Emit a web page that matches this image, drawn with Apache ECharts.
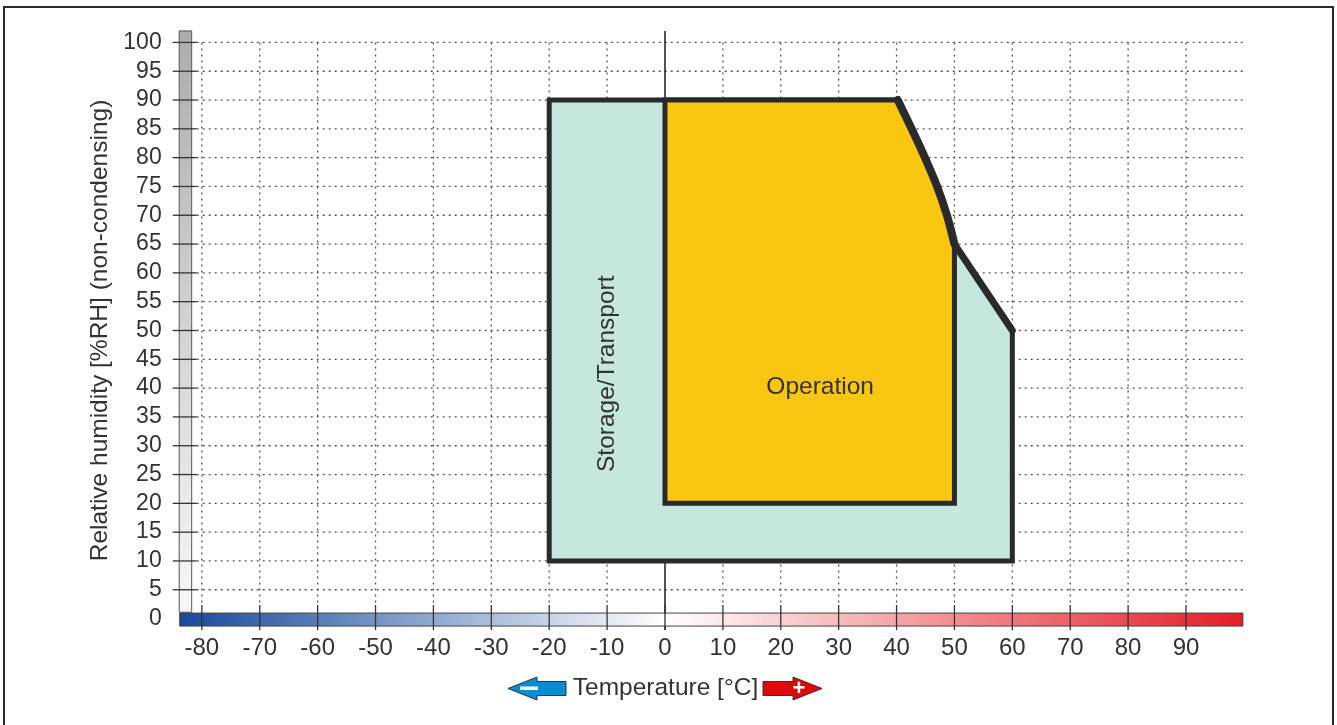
<!DOCTYPE html>
<html>
<head>
<meta charset="utf-8">
<script src="https://cdn.jsdelivr.net/npm/echarts@6/dist/echarts.min.js"></script>
<style>
	html, body { margin: 0; padding: 0; background: #fff; }
	#chart { width: 1337px; height: 725px; }
</style>
</head>
<body>
<div id="chart"></div>
<script>
	// tick labels
	const xTicks = [-80, -70, -60, -50, -40, -30, -20, -10, 0, 10, 20, 30, 40, 50, 60, 70, 80, 90]
	const yTicks = [0, 5, 10, 15, 20, 25, 30, 35, 40, 45, 50, 55, 60, 65, 70, 75, 80, 85, 90, 95, 100]

	// upper limit curve between 40 °C / 90 %RH and 50 °C / 65 %RH
	const limitCurve = [[40.2, 90], [42.6, 85], [44.9, 80], [47, 75], [48.7, 70], [50, 65]]
	const limitLine = [[50, 65], [60, 50]]

	// storage / transport area
	const storageArea = [[-20, 10], [-20, 90]].concat(limitCurve, [[60, 50], [60, 10]])
	// operation area
	const operationArea = [[0, 20], [0, 90]].concat(limitCurve, [[50, 20]])

	const labels = [
		{ name: 'Storage/Transport', value: [-10, 42.5], rotate: true },
		{ name: 'Operation', value: [26.8, 40.2], rotate: false }
	]

	const xRange = [-84, 100]
	const yRange = [-2, 102]

	const font = '"Liberation Sans", Arial, sans-serif'
	const textColor = '#333'
	const lineColor = '#2a2a2a'

	const chart = echarts.init(document.getElementById('chart'), null, { renderer: 'canvas' })

	function areaSeries(points, fill, z) {
		return {
			type: 'custom',
			z: z,
			silent: true,
			clip: false,
			data: [0],
			renderItem: (params, api) => {
				return {
					type: 'polygon',
					shape: { points: points.map(p => api.coord(p)) },
					style: { fill: fill, stroke: lineColor, lineWidth: 5, lineJoin: 'miter' }
				}
			}
		}
	}

	function limitSeries(points, width, smooth, z) {
		return {
			type: 'custom',
			z: z,
			silent: true,
			clip: false,
			data: [0],
			renderItem: (params, api) => {
				return {
					type: 'polyline',
					shape: { points: points.map(p => api.coord(p)), smooth: smooth },
					style: { fill: null, stroke: lineColor, lineWidth: width, lineCap: 'round' }
				}
			}
		}
	}

	const option = {
		animation: false,
		grid: {
			left: 178.7,
			right: 93.1,
			top: 30.9,
			bottom: 94.9
		},
		xAxis: {
			type: 'value',
			min: xRange[0],
			max: xRange[1],
			axisLine: { show: false },
			axisTick: { show: false },
			splitLine: { show: false },
			axisLabel: {
				customValues: xTicks,
				color: textColor,
				fontFamily: font,
				fontSize: 24,
				margin: 6
			}
		},
		yAxis: {
			type: 'value',
			min: yRange[0],
			max: yRange[1],
			name: 'Relative humidity [%RH] (non-condensing)',
			nameLocation: 'middle',
			nameGap: 60,
			nameTextStyle: { color: textColor, fontFamily: font, fontSize: 24.5 },
			axisLine: { show: false },
			axisTick: { show: false },
			splitLine: { show: false },
			axisLabel: {
				customValues: yTicks,
				color: textColor,
				fontFamily: font,
				fontSize: 23,
				margin: 17
			}
		},
		graphic: [
			// outer frame
			{
				type: 'rect',
				shape: { x: 4, y: 7, width: 1329, height: 740 },
				style: { fill: 'none', stroke: '#2a2a2a', lineWidth: 2 }
			},
			// temperature legend
			{
				type: 'polygon',
				shape: { points: [[508, 688.5], [537, 677], [537, 681.5], [566, 681.5], [566, 695.5], [537, 695.5], [537, 700]] },
				style: { fill: '#0a8bd5', stroke: '#333', lineWidth: 1 }
			},
			{
				type: 'rect',
				shape: { x: 520, y: 686.5, width: 18, height: 3.5 },
				style: { fill: '#fff' }
			},
			{
				type: 'text',
				style: {
					text: 'Temperature [°C]', x: 665.5, y: 688.5,
					align: 'center', verticalAlign: 'middle',
					font: '24.5px ' + font, fill: textColor
				}
			},
			{
				type: 'polygon',
				shape: { points: [[763, 681.5], [793, 681.5], [793, 677], [822, 688.5], [793, 700], [793, 695.5], [763, 695.5]] },
				style: { fill: '#dc0a0a', stroke: '#333', lineWidth: 1 }
			},
			{
				type: 'text',
				style: {
					text: '+', x: 799, y: 689,
					align: 'center', verticalAlign: 'middle',
					font: 'bold 22px ' + font, fill: '#fff'
				}
			}
		],
		series: [
			// vertical dotted grid lines
			{
				type: 'custom',
				z: 1,
				silent: true,
				data: xTicks.filter(v => v !== 0),
				renderItem: (params, api) => {
					const top = api.coord([api.value(0), 100])
					const bottom = api.coord([api.value(0), 0])
					return {
						type: 'line',
						shape: { x1: top[0], y1: top[1], x2: bottom[0], y2: bottom[1] - 14 },
						style: { stroke: '#555', lineWidth: 1.3, lineDash: [2, 4] }
					}
				}
			},
			// horizontal dotted grid lines
			{
				type: 'custom',
				z: 1,
				silent: true,
				data: yTicks.filter(v => v !== 0),
				renderItem: (params, api) => {
					const left = api.coord([xRange[0], api.value(0)])
					const right = api.coord([xRange[1], api.value(0)])
					return {
						type: 'line',
						shape: { x1: left[0] + 18, y1: left[1], x2: right[0], y2: right[1] },
						style: { stroke: '#555', lineWidth: 1.3, lineDash: [2, 4] }
					}
				}
			},
			// zero line
			{
				type: 'custom',
				z: 2,
				silent: true,
				data: [0],
				renderItem: (params, api) => {
					const top = api.coord([0, yRange[1]])
					const bottom = api.coord([0, yRange[0]])
					return {
						type: 'line',
						shape: { x1: top[0], y1: top[1], x2: bottom[0], y2: bottom[1] },
						style: { stroke: lineColor, lineWidth: 1.6 }
					}
				}
			},
			// humidity bar along y axis
			{
				type: 'custom',
				z: 3,
				silent: true,
				clip: false,
				data: [0],
				renderItem: (params, api) => {
					const top = api.coord([xRange[0], yRange[1]])
					const bottom = api.coord([xRange[0], 1.1])
					return {
						type: 'rect',
						shape: { x: top[0] + 0.5, y: top[1], width: 12.5, height: bottom[1] - top[1] },
						style: {
							stroke: '#555',
							lineWidth: 1,
							fill: new echarts.graphic.LinearGradient(0, 0, 0, 1, [
								{ offset: 0, color: '#acacac' },
								{ offset: 1, color: '#f8f8f8' }
							])
						}
					}
				}
			},
			// temperature bar along x axis
			{
				type: 'custom',
				z: 3,
				silent: true,
				clip: false,
				data: [0],
				renderItem: (params, api) => {
					const left = api.coord([xRange[0], 0])
					const right = api.coord([xRange[1], 0])
					const zeroPos = (0 - xRange[0]) / (xRange[1] - xRange[0])
					return {
						type: 'rect',
						shape: { x: left[0] + 1, y: left[1] - 5.5, width: right[0] - left[0] - 2, height: 13 },
						style: {
							stroke: '#444',
							lineWidth: 1,
							fill: new echarts.graphic.LinearGradient(0, 0, 1, 0, [
								{ offset: 0, color: '#174a9b' },
								{ offset: zeroPos, color: '#ffffff' },
								{ offset: 1, color: '#e31d25' }
							])
						}
					}
				}
			},
			// x ticks
			{
				type: 'custom',
				z: 4,
				silent: true,
				clip: false,
				data: xTicks,
				renderItem: (params, api) => {
					const p = api.coord([api.value(0), 0])
					return {
						type: 'line',
						shape: { x1: p[0], y1: p[1] - 13.5, x2: p[0], y2: p[1] + 11.5 },
						style: { stroke: '#333', lineWidth: 1.3 }
					}
				}
			},
			// y ticks
			{
				type: 'custom',
				z: 4,
				silent: true,
				clip: false,
				data: yTicks.filter(v => v !== 0),
				renderItem: (params, api) => {
					const p = api.coord([xRange[0], api.value(0)])
					return {
						type: 'line',
						shape: { x1: p[0] - 6, y1: p[1], x2: p[0] + 18, y2: p[1] },
						style: { stroke: '#333', lineWidth: 1.3 }
					}
				}
			},
			areaSeries(storageArea, '#c6e7df', 5),
			areaSeries(operationArea, '#f9c611', 6),
			// thick upper limit line
			limitSeries(limitCurve, 8, 0.3, 7),
			limitSeries(limitLine, 7, 0, 7),
			// area labels
			{
				type: 'custom',
				z: 8,
				silent: true,
				data: labels.map(l => l.value),
				renderItem: (params, api) => {
					const item = labels[params.dataIndex]
					const p = api.coord([api.value(0), api.value(1)])
					return {
						type: 'text',
						x: p[0],
						y: p[1],
						rotation: item.rotate ? Math.PI / 2 : 0,
						style: {
							text: item.name,
							x: 0,
							y: 0,
							align: 'center',
							verticalAlign: 'middle',
							font: '24.5px ' + font,
							fill: textColor
						}
					}
				}
			}
		]
	}

	chart.setOption(option)

	window.addEventListener('resize', () => {
		chart.resize()
	})
</script>
</body>
</html>
